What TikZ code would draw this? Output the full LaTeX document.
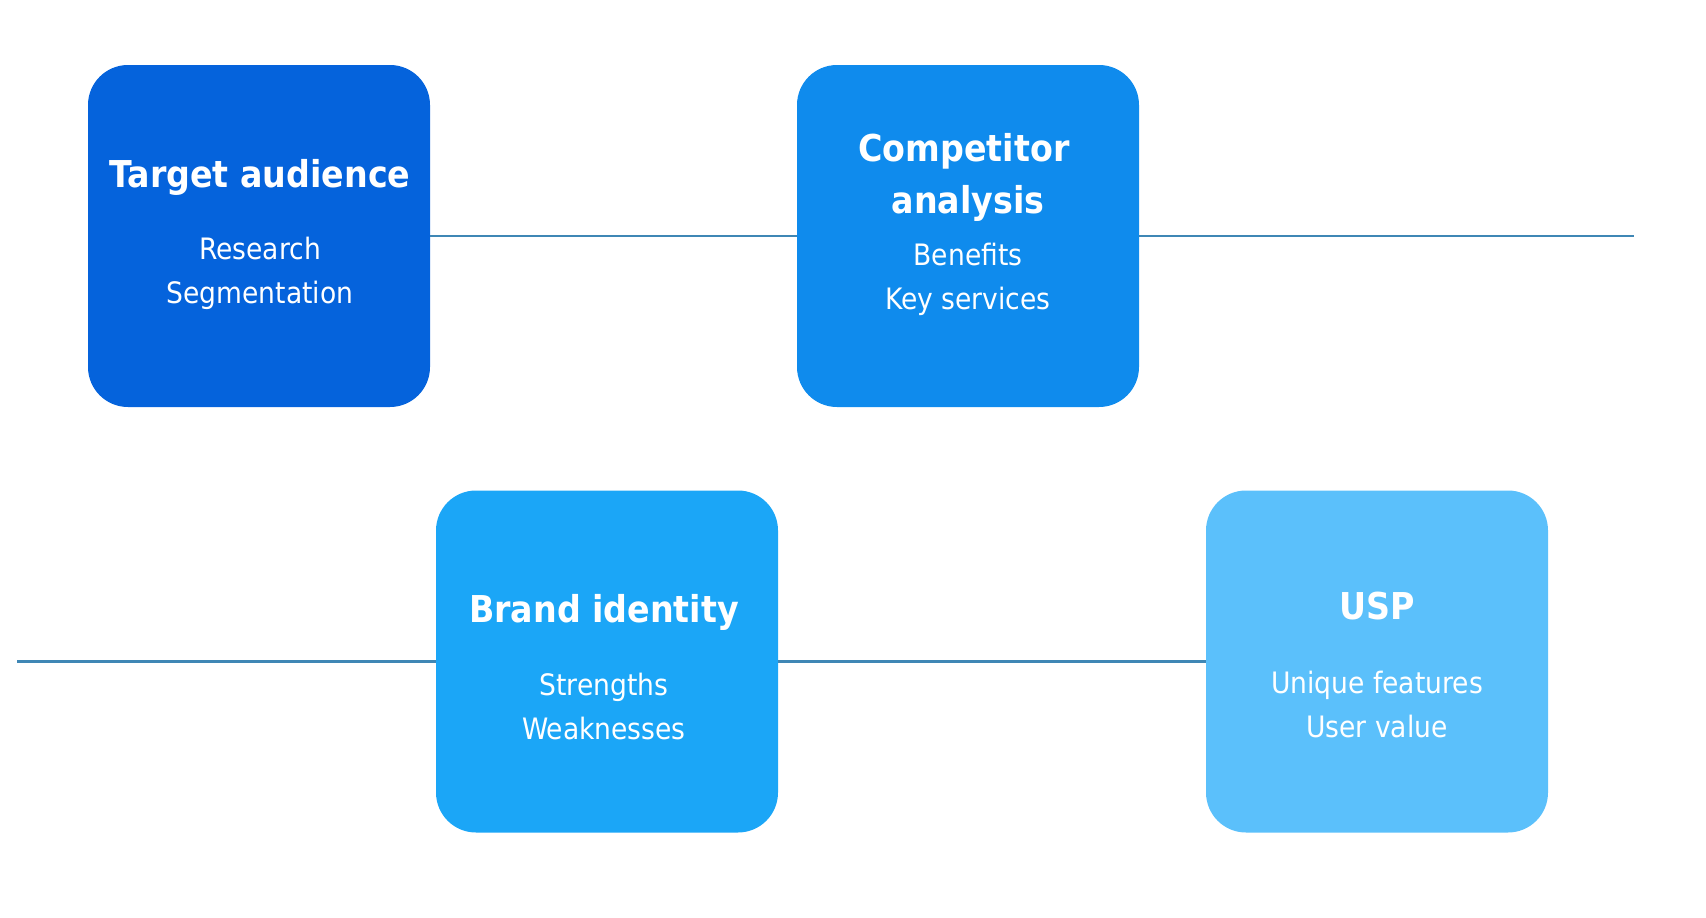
\documentclass[tikz,border=0pt]{standalone}
\usepackage{fontspec}
\setmainfont{DejaVu Sans Condensed}
\definecolor{cTA}{HTML}{0563DC}
\definecolor{cCA}{HTML}{0F8BED}
\definecolor{cBI}{HTML}{1BA6F7}
\definecolor{cUS}{HTML}{5BC0FB}
\definecolor{lineblue}{HTML}{3F87B5}
\tikzset{
  card/.style={rounded corners=40pt, minimum width=342pt, minimum height=342pt, inner sep=0pt, draw=none},
  ttl/.style={text=white, font=\fontsize{37}{44}\selectfont\bfseries, anchor=base, inner sep=0pt},
  sub/.style={text=white, font=\fontsize{29.5}{34}\selectfont, anchor=base, inner sep=0pt},
  link/.style={draw=lineblue, line width=2.8pt}
}
\begin{document}
\begin{tikzpicture}[x=1pt,y=-1pt]
\useasboundingbox (0,0) rectangle (1706,918);
\node[card, fill=cTA] (ta) at (259,236) {};
\node[card, fill=cCA] (ca) at (968,236) {};
\node[card, fill=cBI] (bi) at (607,661.5) {};
\node[card, fill=cUS] (us) at (1377,661.5) {};
\coordinate (tend) at (1634,236);
\coordinate (bstart) at (17,661.5);
\draw[link] (ta.east) -- (ca.west);
\draw[link] (ca.east) -- (tend);
\draw[link] (bstart) -- (bi.west);
\draw[link] (bi.east) -- (us.west);
% texts
\node[ttl] (t1) at (260,187) {Target audience};
\node[sub] (t1a) at (260,259) {Research};
\node[sub] (t1b) at (260,303) {Segmentation};
\node[ttl] (t2) at (964,161) {Competitor};
\node[ttl] (t2b) at (968,213) {analysis};
\node[sub] (t2c) at (968,265) {Benefits};
\node[sub] (t2d) at (968,309) {Key services};
\node[ttl] (t3) at (604,622) {Brand identity};
\node[sub] (t3a) at (604,695) {Strengths};
\node[sub] (t3b) at (604,739) {Weaknesses};
\node[ttl] (t4) at (1377,619) {USP};
\node[sub] (t4a) at (1377,693) {Unique features};
\node[sub] (t4b) at (1377,737) {User value};
\end{tikzpicture}
\end{document}
